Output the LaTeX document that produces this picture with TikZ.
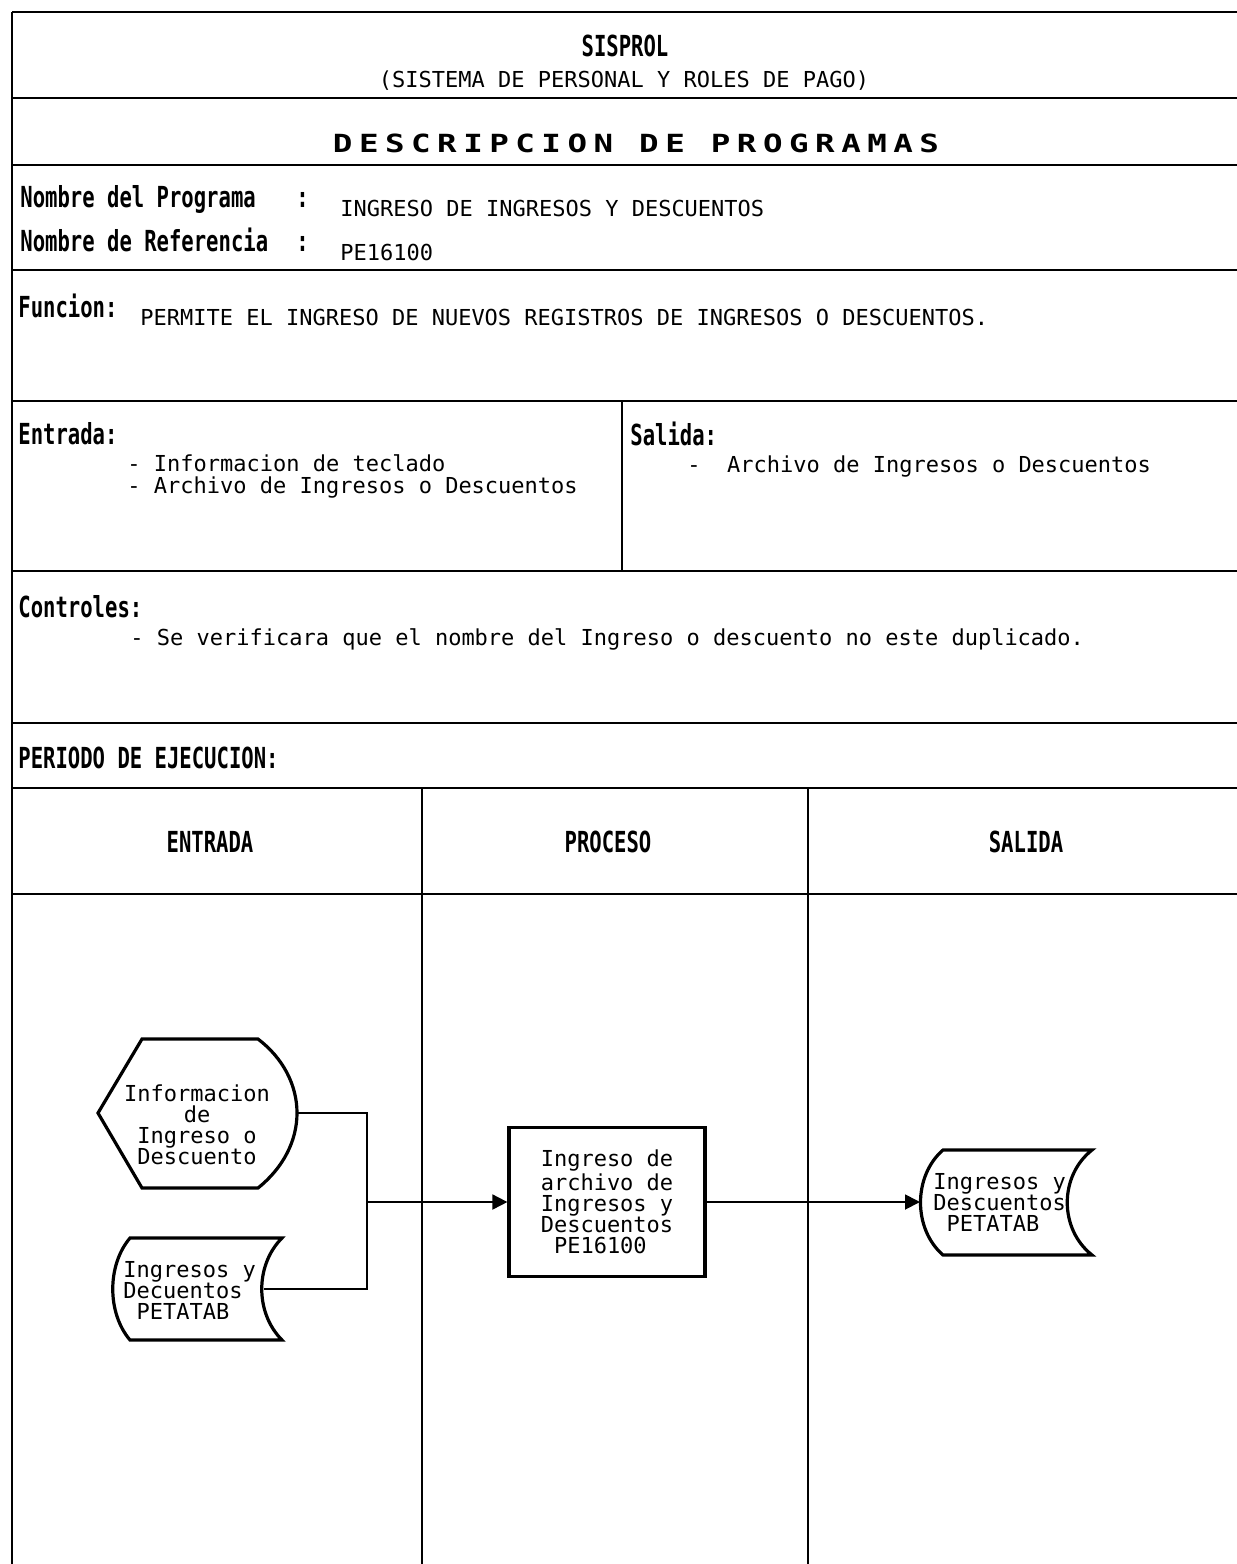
\documentclass[tikz,border=0pt]{standalone}
\usepackage{fontspec}
\usetikzlibrary{arrows.meta}
\newfontfamily\bodyf{DejaVu Sans Mono}
\newfontfamily\titf{DejaVu Sans Mono}[LetterSpace=20]
\newcommand\hd[1]{\scalebox{0.98}[1.38]{\bodyf\bfseries\fontsize{10.5}{12}\selectfont #1}}
\newcommand\ttl[1]{\scalebox{1.3}[1]{\titf\bfseries\fontsize{12.5}{14}\selectfont #1}}
\tikzset{
  hline/.style={line width=1.4pt},
  vline/.style={line width=0.9pt},
  shp/.style={line width=1.6pt, line join=miter},
  conn/.style={line width=0.9pt},
  arr/.style={conn, -{Triangle[length=7.5pt,width=7.5pt]}},
  body/.style={inner sep=0pt, font=\bodyf\fontsize{11}{10.5}\selectfont},
  head/.style={inner sep=0pt},
}
\begin{document}
\begin{tikzpicture}[x=0.5pt,y=-0.5pt]
\useasboundingbox (0,0) rectangle (1237,1564);
% frame
\draw[hline] (12,12) -- (1237,12);
\draw[vline] (12,12) -- (12,1564);
\foreach \yy in {98,165,270,401,571,723,788,894}
  \draw[hline] (12,\yy) -- (1237,\yy);
\draw[vline] (622,401) -- (622,571);
\draw[vline] (422,788) -- (422,1564);
\draw[vline] (808,788) -- (808,1564);

% header
\node[head, anchor=base] (sis) at (625,56) {\hd{SISPROL}};
\node[body, anchor=base] (sub) at (624,87) {(SISTEMA DE PERSONAL Y ROLES DE PAGO)};
\node[head, anchor=base] (desc) at (636,152) {\ttl{DESCRIPCION DE PROGRAMAS}};

\node[head, anchor=base west] (lprog) at (20,207) {\hd{Nombre del Programa}};
\node[head, anchor=base west] (cprog) at (296,207) {\hd{:}};
\node[body, anchor=base west] (vprog) at (340,216) {INGRESO DE INGRESOS Y DESCUENTOS};
\node[head, anchor=base west] (lref) at (20,251) {\hd{Nombre de Referencia}};
\node[head, anchor=base west] (cref) at (296,251) {\hd{:}};
\node[body, anchor=base west] (vref) at (340,260) {PE16100};

\node[head, anchor=base west] (lfun) at (18,317) {\hd{Funcion:}};
\node[body, anchor=base west] (vfun) at (140,325) {PERMITE EL INGRESO DE NUEVOS REGISTROS DE INGRESOS O DESCUENTOS.};

\node[head, anchor=base west] (lent) at (18,444) {\hd{Entrada:}};
\node[body, anchor=base west] (ent1) at (127,471) {- Informacion de teclado};
\node[body, anchor=base west] (ent2) at (127,493) {- Archivo de Ingresos o Descuentos};

\node[head, anchor=base west] (lsal) at (630,445) {\hd{Salida:}};
\node[body, anchor=base west] (sal1) at (687,472) {-~~Archivo de Ingresos o Descuentos};

\node[head, anchor=base west] (lctl) at (18,617) {\hd{Controles:}};
\node[body, anchor=base west] (ctl1) at (130,645) {- Se verificara que el nombre del Ingreso o descuento no este duplicado.};

\node[head, anchor=base west] (lper) at (18,768) {\hd{PERIODO DE EJECUCION:}};

\node[head, anchor=base] (cent) at (210,852) {\hd{ENTRADA}};
\node[head, anchor=base] (cpro) at (608,852) {\hd{PROCESO}};
\node[head, anchor=base] (csal) at (1026,852) {\hd{SALIDA}};

% display symbol
\draw[shp] (142,1039) -- (258,1039) .. controls (283,1058) and (297,1085) .. (297,1113)
  .. controls (297,1141) and (283,1168) .. (258,1188) -- (142,1188) -- (98,1113) -- cycle;
\node[body, align=center] (info) at (197,1125) {Informacion\\de\\Ingreso o\\Descuento};
\coordinate (infoE) at (297,1113);

% stored data left
\draw[shp] (130,1238) -- (282,1238) .. controls (255,1265) and (255,1313) .. (282,1340)
  -- (130,1340) .. controls (107,1313) and (107,1265) .. (130,1238) -- cycle;
\node[body, align=left, anchor=west] (dsl) at (123,1290) {Ingresos y\\Decuentos\\~PETATAB};
\coordinate (dslE) at (264,1289);

% process
\node[shp, draw, body, align=left, minimum width=98pt, minimum height=74.5pt] (proc) at (607,1202)
  {Ingreso de\\archivo de\\Ingresos y\\Descuentos\\~PE16100};

% stored data right
\draw[shp] (943,1150) -- (1092,1150) .. controls (1059,1176) and (1059,1229) .. (1092,1255)
  -- (943,1255) .. controls (913,1229) and (913,1176) .. (943,1150) -- cycle;
\node[body, align=left, anchor=west] (dsr) at (933,1202) {Ingresos y\\Descuentos\\~PETATAB};
\coordinate (dsrW) at (920,1202);

% connectors
\coordinate (jn) at (367,1202);
\draw[conn] (infoE) -| (jn) |- (dslE);
\draw[arr] (jn) -- (proc.west);
\draw[arr] (proc.east) -- (dsrW);
\end{tikzpicture}
\end{document}
